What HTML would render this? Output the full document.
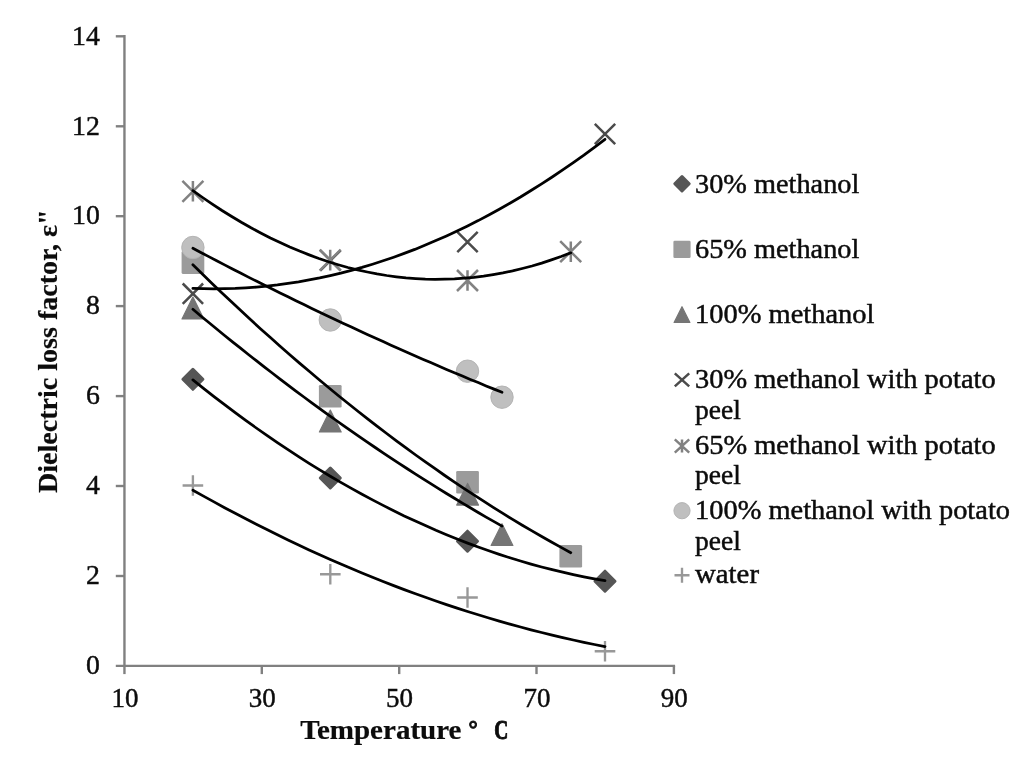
<!DOCTYPE html>
<html><head><meta charset="utf-8"><title>Dielectric loss factor vs temperature</title>
<style>
html,body{margin:0;padding:0;background:#fff;}
body{width:1024px;height:765px;overflow:hidden;}
svg{display:block;}
text{font-family:"Liberation Serif","DejaVu Serif",serif;fill:#0c0c0c;stroke:#0c0c0c;stroke-width:0.45px;}
.b{font-weight:bold;stroke-width:0.2px;}
</style></head><body>
<svg width="1024" height="765" viewBox="0 0 1024 765">
<rect width="1024" height="765" fill="#fff"/>
<g stroke="#808080" stroke-width="2.4" fill="none">
<path d="M124.45 35V667"/>
<path d="M115.8 665.9H675.1"/>
<path d="M115.8 576.0H124.45"/>
<path d="M115.8 486.0H124.45"/>
<path d="M115.8 396.1H124.45"/>
<path d="M115.8 306.1H124.45"/>
<path d="M115.8 216.2H124.45"/>
<path d="M115.8 126.3H124.45"/>
<path d="M115.8 36.3H124.45"/>
<path d="M261.8 665.9V674.1"/>
<path d="M399.2 665.9V674.1"/>
<path d="M536.5 665.9V674.1"/>
<path d="M673.9 665.9V674.1"/>
<path d="M124.45 665.9V674.1"/>
</g>
<text x="86.0" y="673.9" font-size="27.5" textLength="13.9" lengthAdjust="spacingAndGlyphs">0</text>
<text x="86.0" y="584.0" font-size="27.5" textLength="13.9" lengthAdjust="spacingAndGlyphs">2</text>
<text x="86.0" y="494.1" font-size="27.5" textLength="13.9" lengthAdjust="spacingAndGlyphs">4</text>
<text x="86.0" y="404.2" font-size="27.5" textLength="13.9" lengthAdjust="spacingAndGlyphs">6</text>
<text x="86.0" y="314.3" font-size="27.5" textLength="13.9" lengthAdjust="spacingAndGlyphs">8</text>
<text x="72.1" y="224.4" font-size="27.5" textLength="27.8" lengthAdjust="spacingAndGlyphs">10</text>
<text x="72.1" y="134.5" font-size="27.5" textLength="27.8" lengthAdjust="spacingAndGlyphs">12</text>
<text x="72.1" y="44.6" font-size="27.5" textLength="27.8" lengthAdjust="spacingAndGlyphs">14</text>
<text x="111.4" y="707.4" font-size="27.5" textLength="27.0" lengthAdjust="spacingAndGlyphs">10</text>
<text x="248.7" y="707.4" font-size="27.5" textLength="27.0" lengthAdjust="spacingAndGlyphs">30</text>
<text x="386.1" y="707.4" font-size="27.5" textLength="27.0" lengthAdjust="spacingAndGlyphs">50</text>
<text x="523.4" y="707.4" font-size="27.5" textLength="27.0" lengthAdjust="spacingAndGlyphs">70</text>
<text x="660.8" y="707.4" font-size="27.5" textLength="27.0" lengthAdjust="spacingAndGlyphs">90</text>
<path d="M192.9 369.3L202.9 379.3L192.9 389.3L182.9 379.3Z" fill="#565656" stroke="#565656" stroke-width="3" stroke-linejoin="round"/>
<path d="M330.3 468.0L340.3 478.0L330.3 488.0L320.3 478.0Z" fill="#565656" stroke="#565656" stroke-width="3" stroke-linejoin="round"/>
<path d="M467.5 531.2L477.5 541.2L467.5 551.2L457.5 541.2Z" fill="#565656" stroke="#565656" stroke-width="3" stroke-linejoin="round"/>
<path d="M605.0 571.2L615.0 581.2L605.0 591.2L595.0 581.2Z" fill="#565656" stroke="#565656" stroke-width="3" stroke-linejoin="round"/>
<rect x="181.6" y="251.2" width="22.7" height="22.7" rx="1.3" fill="#9b9b9b"/>
<rect x="318.9" y="384.9" width="22.7" height="22.7" rx="1.3" fill="#9b9b9b"/>
<rect x="456.2" y="470.9" width="22.7" height="22.7" rx="1.3" fill="#9b9b9b"/>
<rect x="559.4" y="544.9" width="22.7" height="22.7" rx="1.3" fill="#9b9b9b"/>
<path d="M192.9 297.1L203.8 318.9L182.0 318.9Z" fill="#757575" stroke="#757575" stroke-width="1.2" stroke-linejoin="round"/>
<path d="M330.3 410.1L341.2 431.9L319.4 431.9Z" fill="#757575" stroke="#757575" stroke-width="1.2" stroke-linejoin="round"/>
<path d="M467.6 483.4L478.5 505.1L456.7 505.1Z" fill="#757575" stroke="#757575" stroke-width="1.2" stroke-linejoin="round"/>
<path d="M502.0 523.7L512.9 545.5L491.1 545.5Z" fill="#757575" stroke="#757575" stroke-width="1.2" stroke-linejoin="round"/>
<path d="M182.7 283.5L203.1 303.9M203.1 283.5L182.7 303.9" stroke="#4b4b4b" stroke-width="2.5" fill="none"/>
<path d="M320.3 250.3L340.7 270.7M340.7 250.3L320.3 270.7" stroke="#4b4b4b" stroke-width="2.5" fill="none"/>
<path d="M457.3 231.8L477.7 252.2M477.7 231.8L457.3 252.2" stroke="#4b4b4b" stroke-width="2.5" fill="none"/>
<path d="M594.8 123.8L615.2 144.2M615.2 123.8L594.8 144.2" stroke="#4b4b4b" stroke-width="2.5" fill="none"/>
<path d="M182.4 180.8L203.4 201.8M203.4 180.8L182.4 201.8M192.9 181.0L192.9 201.6" stroke="#828282" stroke-width="2.5" fill="none"/>
<path d="M319.7 249.6L340.7 270.6M340.7 249.6L319.7 270.6M330.2 249.8L330.2 270.4" stroke="#828282" stroke-width="2.5" fill="none"/>
<path d="M457.0 270.0L478.0 291.0M478.0 270.0L457.0 291.0M467.5 270.2L467.5 290.8" stroke="#828282" stroke-width="2.5" fill="none"/>
<path d="M560.2 241.2L581.2 262.2M581.2 241.2L560.2 262.2M570.8 241.4L570.8 262.1" stroke="#828282" stroke-width="2.5" fill="none"/>
<circle cx="192.9" cy="247.5" r="11.2" fill="#bfbfbf" stroke="#b4b4b4" stroke-width="1"/>
<circle cx="330.3" cy="320.0" r="11.2" fill="#bfbfbf" stroke="#b4b4b4" stroke-width="1"/>
<circle cx="467.5" cy="371.2" r="11.2" fill="#bfbfbf" stroke="#b4b4b4" stroke-width="1"/>
<circle cx="502.0" cy="397.2" r="11.2" fill="#bfbfbf" stroke="#b4b4b4" stroke-width="1"/>
<path d="M182.6 485.5L203.2 485.5M192.9 475.2L192.9 495.8" stroke="#989898" stroke-width="2.35" fill="none"/>
<path d="M320.0 574.2L340.6 574.2M330.3 563.9L330.3 584.5" stroke="#989898" stroke-width="2.35" fill="none"/>
<path d="M457.2 597.5L477.8 597.5M467.5 587.2L467.5 607.8" stroke="#989898" stroke-width="2.35" fill="none"/>
<path d="M594.7 651.2L615.3 651.2M605.0 641.0L605.0 661.5" stroke="#989898" stroke-width="2.35" fill="none"/>
<g stroke="#000" stroke-width="2.75" fill="none" stroke-linecap="round">
<path d="M192.9 379.9L203.5 388.3L214.0 396.6L224.6 404.7L235.2 412.7L245.7 420.4L256.3 428.0L266.9 435.4L277.4 442.6L288.0 449.7L298.6 456.6L309.1 463.3L319.7 469.8L330.3 476.2L340.8 482.4L351.4 488.4L362.0 494.2L372.5 499.9L383.1 505.4L393.7 510.7L404.2 515.9L414.8 520.8L425.4 525.6L435.9 530.3L446.5 534.7L457.1 539.0L467.6 543.1L478.2 547.0L488.8 550.8L499.3 554.4L509.9 557.8L520.5 561.0L531.0 564.1L541.6 567.0L552.2 569.7L562.7 572.2L573.3 574.6L583.9 576.8L594.4 578.8L605.0 580.7"/>
<path d="M192.9 264.8L202.6 274.3L212.3 283.7L222.0 292.9L231.7 302.1L241.3 311.1L251.0 320.1L260.7 328.9L270.4 337.6L280.1 346.2L289.8 354.7L299.5 363.1L309.2 371.3L318.9 379.5L328.5 387.5L338.2 395.5L347.9 403.3L357.6 411.0L367.3 418.6L377.0 426.1L386.7 433.5L396.4 440.8L406.0 447.9L415.7 455.0L425.4 461.9L435.1 468.7L444.8 475.5L454.5 482.1L464.2 488.6L473.9 494.9L483.6 501.2L493.2 507.4L502.9 513.4L512.6 519.4L522.3 525.2L532.0 530.9L541.7 536.5L551.4 542.0L561.1 547.4L570.8 552.7"/>
<path d="M192.9 309.3L200.8 316.0L208.8 322.5L216.7 329.0L224.6 335.5L232.5 341.9L240.5 348.2L248.4 354.5L256.3 360.7L264.2 366.9L272.2 373.0L280.1 379.1L288.0 385.1L295.9 391.1L303.9 397.0L311.8 402.8L319.7 408.6L327.6 414.3L335.6 420.0L343.5 425.6L351.4 431.1L359.3 436.6L367.3 442.1L375.2 447.5L383.1 452.8L391.0 458.1L399.0 463.3L406.9 468.5L414.8 473.6L422.7 478.6L430.7 483.6L438.6 488.6L446.5 493.5L454.4 498.3L462.4 503.1L470.3 507.8L478.2 512.5L486.1 517.1L494.1 521.6L502.0 526.1"/>
<path d="M192.9 288.4L203.5 288.7L214.0 288.8L224.6 288.7L235.2 288.4L245.7 287.8L256.3 287.1L266.9 286.1L277.4 284.9L288.0 283.4L298.6 281.8L309.1 279.9L319.7 277.9L330.3 275.6L340.8 273.1L351.4 270.3L362.0 267.4L372.5 264.2L383.1 260.8L393.7 257.2L404.2 253.4L414.8 249.4L425.4 245.1L435.9 240.6L446.5 235.9L457.1 231.0L467.6 225.9L478.2 220.6L488.8 215.0L499.3 209.2L509.9 203.2L520.5 197.0L531.0 190.5L541.6 183.9L552.2 177.0L562.7 169.9L573.3 162.6L583.9 155.1L594.4 147.3L605.0 139.3"/>
<path d="M192.9 190.6L202.6 197.5L212.3 204.1L222.0 210.5L231.7 216.5L241.3 222.3L251.0 227.8L260.7 233.0L270.4 238.0L280.1 242.6L289.8 247.0L299.5 251.1L309.2 254.9L318.9 258.5L328.5 261.8L338.2 264.7L347.9 267.5L357.6 269.9L367.3 272.0L377.0 273.9L386.7 275.5L396.4 276.8L406.0 277.9L415.7 278.6L425.4 279.1L435.1 279.3L444.8 279.2L454.5 278.9L464.2 278.2L473.9 277.3L483.6 276.1L493.2 274.6L502.9 272.9L512.6 270.9L522.3 268.5L532.0 266.0L541.7 263.1L551.4 259.9L561.1 256.5L570.8 252.8"/>
<path d="M192.9 248.3L200.8 252.5L208.8 256.6L216.7 260.8L224.6 264.9L232.5 269.0L240.5 273.0L248.4 277.1L256.3 281.1L264.2 285.0L272.2 289.0L280.1 292.9L288.0 296.8L295.9 300.7L303.9 304.6L311.8 308.4L319.7 312.2L327.6 315.9L335.6 319.7L343.5 323.4L351.4 327.1L359.3 330.8L367.3 334.4L375.2 338.0L383.1 341.6L391.0 345.2L399.0 348.7L406.9 352.2L414.8 355.7L422.7 359.2L430.7 362.6L438.6 366.0L446.5 369.4L454.4 372.7L462.4 376.1L470.3 379.4L478.2 382.6L486.1 385.9L494.1 389.1L502.0 392.3"/>
<path d="M192.9 490.2L203.5 496.1L214.0 501.9L224.6 507.7L235.2 513.3L245.7 518.8L256.3 524.2L266.9 529.6L277.4 534.8L288.0 539.9L298.6 544.9L309.1 549.9L319.7 554.7L330.3 559.4L340.8 564.0L351.4 568.5L362.0 572.9L372.5 577.3L383.1 581.5L393.7 585.6L404.2 589.6L414.8 593.5L425.4 597.3L435.9 601.0L446.5 604.6L457.1 608.1L467.6 611.5L478.2 614.8L488.8 618.0L499.3 621.1L509.9 624.1L520.5 627.0L531.0 629.8L541.6 632.5L552.2 635.1L562.7 637.6L573.3 640.0L583.9 642.3L594.4 644.5L605.0 646.6"/>
</g>
<path d="M682.0 176.6L689.2 183.8L682.0 190.9L674.8 183.8Z" fill="#565656" stroke="#565656" stroke-width="3" stroke-linejoin="round"/>
<text x="695.0" y="192.5" font-size="26.5" textLength="164.3" lengthAdjust="spacingAndGlyphs">30% methanol</text>
<rect x="673.4" y="240.8" width="17.2" height="17.2" rx="1.3" fill="#9b9b9b"/>
<text x="695.0" y="257.7" font-size="26.5" textLength="164.3" lengthAdjust="spacingAndGlyphs">65% methanol</text>
<path d="M682.0 306.7L689.9 322.5L674.1 322.5Z" fill="#757575" stroke="#757575" stroke-width="1.2" stroke-linejoin="round"/>
<text x="695.0" y="322.9" font-size="26.5" textLength="179.5" lengthAdjust="spacingAndGlyphs">100% methanol</text>
<path d="M674.8 373.4L689.2 386.4M689.2 373.4L674.8 386.4" stroke="#4b4b4b" stroke-width="2.5" fill="none"/>
<text x="695.0" y="388.4" font-size="26.5" textLength="300.6" lengthAdjust="spacingAndGlyphs">30% methanol with potato</text>
<text x="695.0" y="419.3" font-size="26.5" textLength="45.8" lengthAdjust="spacingAndGlyphs">peel</text>
<path d="M674.8 439.4L689.2 452.6M689.2 439.4L674.8 452.6M682.0 439.6L682.0 452.4" stroke="#828282" stroke-width="2.5" fill="none"/>
<text x="695.0" y="453.5" font-size="26.5" textLength="300.6" lengthAdjust="spacingAndGlyphs">65% methanol with potato</text>
<text x="695.0" y="484.4" font-size="26.5" textLength="45.8" lengthAdjust="spacingAndGlyphs">peel</text>
<circle cx="682.0" cy="510.7" r="8.1" fill="#bfbfbf" stroke="#b4b4b4" stroke-width="1"/>
<text x="695.0" y="518.6" font-size="26.5" textLength="315.0" lengthAdjust="spacingAndGlyphs">100% methanol with potato</text>
<text x="695.0" y="549.5" font-size="26.5" textLength="45.8" lengthAdjust="spacingAndGlyphs">peel</text>
<path d="M674.5 575.2L689.5 575.2M682.0 567.7L682.0 582.7" stroke="#989898" stroke-width="2.35" fill="none"/>
<text x="695.0" y="583.3" font-size="26.5" textLength="64" lengthAdjust="spacingAndGlyphs">water</text>
<text class="b" x="300.2" y="738.9" font-size="26.5" textLength="161.3" lengthAdjust="spacingAndGlyphs">Temperature</text>
<text class="b" x="468.6" y="736.6" font-size="23" style="stroke-width:0.9px">°</text>
<text class="b" x="494.2" y="738.9" font-size="26.5" textLength="14" lengthAdjust="spacingAndGlyphs" style="stroke-width:1.0px">C</text>
<text class="b" transform="translate(57.2 493) rotate(-90)" font-size="26.5" textLength="283.5" lengthAdjust="spacingAndGlyphs">Dielectric loss factor, ε"</text>
</svg></body></html>
